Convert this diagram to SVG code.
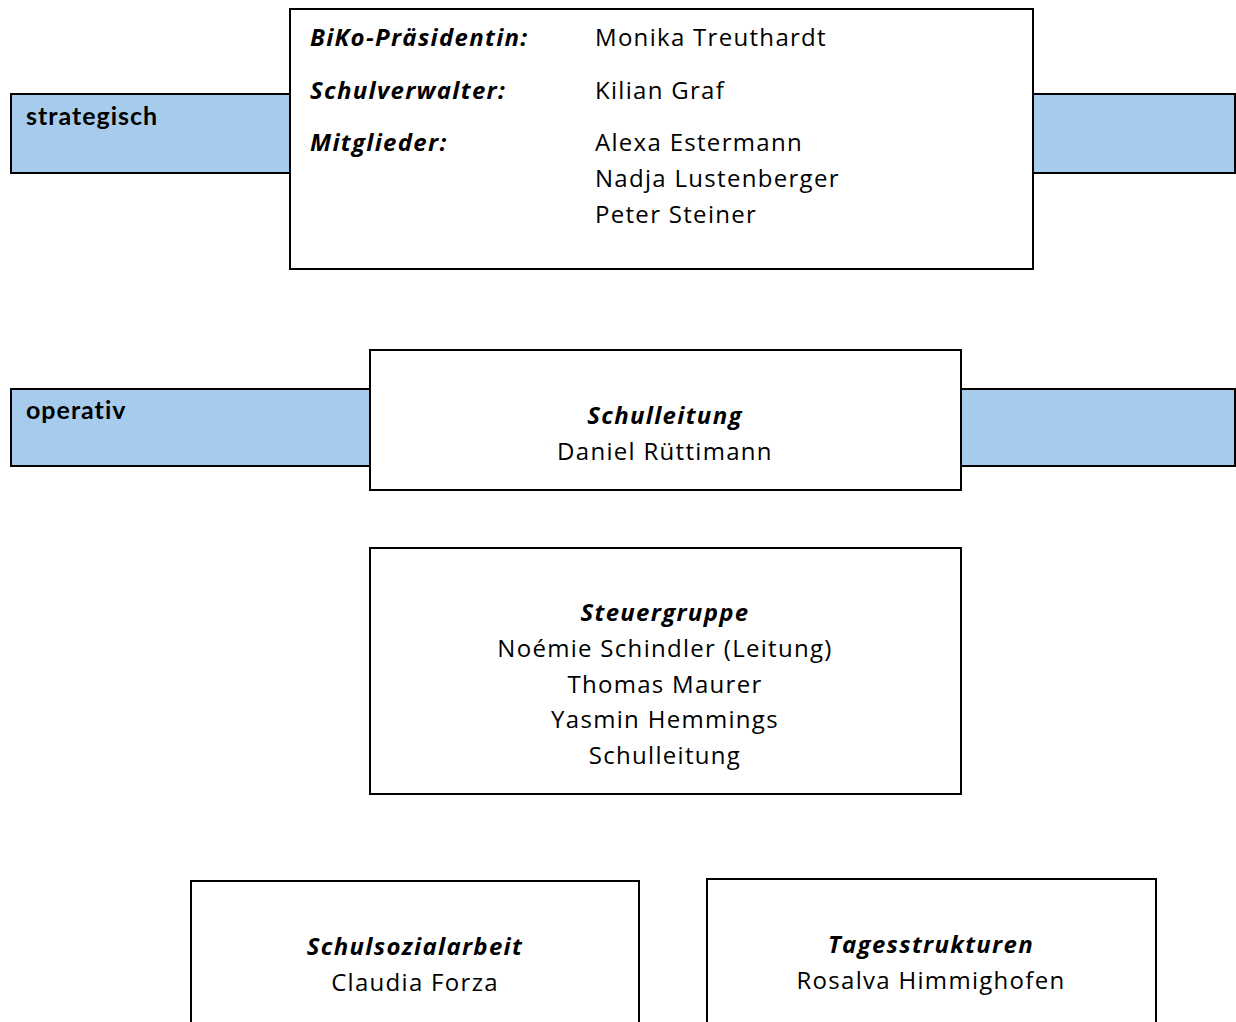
<svg xmlns="http://www.w3.org/2000/svg" width="1236" height="1022" viewBox="0 0 1236 1022">
<style>
.band{fill:#a6cbec;stroke:#000;stroke-width:2}
.box{fill:#fff;stroke:#000;stroke-width:2}
.lvl{font-family:Lato,"Liberation Sans",sans-serif;font-weight:bold;font-size:25px;letter-spacing:1px;fill:#000}
.t{font-family:"Open Sans","Noto Sans",sans-serif;font-size:24px;letter-spacing:1.3px;fill:#000}
.h{font-family:"Open Sans","Noto Sans",sans-serif;font-size:24px;letter-spacing:1.3px;font-weight:bold;font-style:italic;fill:#000}
.c{text-anchor:middle}
</style>
<rect width="1236" height="1022" fill="#fff"/>
<g id="band-strategisch">
<rect class="band" x="11" y="94" width="1224" height="79"/>
<text class="lvl" x="26" y="125">strategisch</text>
</g>
<g id="band-operativ">
<rect class="band" x="11" y="389" width="1224" height="77"/>
<text class="lvl" x="26" y="419">operativ</text>
</g>
<g id="biko">
<rect class="box" x="290" y="9" width="743" height="260"/>
<text class="h" x="310" y="46">BiKo-Präsidentin:</text>
<text class="t" x="595" y="46">Monika Treuthardt</text>
<text class="h" x="310" y="99">Schulverwalter:</text>
<text class="t" x="595" y="99">Kilian Graf</text>
<text class="h" x="310" y="151">Mitglieder:</text>
<text class="t" x="595" y="151">Alexa Estermann</text>
<text class="t" x="595" y="187">Nadja Lustenberger</text>
<text class="t" x="595" y="223">Peter Steiner</text>
</g>
<g id="schulleitung">
<rect class="box" x="370" y="350" width="591" height="140"/>
<text class="h c" x="665" y="424">Schulleitung</text>
<text class="t c" x="665" y="460">Daniel Rüttimann</text>
</g>
<g id="steuergruppe">
<rect class="box" x="370" y="548" width="591" height="246"/>
<text class="h c" x="665" y="621">Steuergruppe</text>
<text class="t c" x="665" y="657">Noémie Schindler (Leitung)</text>
<text class="t c" x="665" y="693">Thomas Maurer</text>
<text class="t c" x="665" y="728">Yasmin Hemmings</text>
<text class="t c" x="665" y="764">Schulleitung</text>
</g>
<g id="schulsozialarbeit">
<rect class="box" x="191" y="881" width="448" height="160"/>
<text class="h c" x="415" y="955">Schulsozialarbeit</text>
<text class="t c" x="415" y="991">Claudia Forza</text>
</g>
<g id="tagesstrukturen">
<rect class="box" x="707" y="879" width="449" height="160"/>
<text class="h c" x="931" y="953">Tagesstrukturen</text>
<text class="t c" x="931" y="989">Rosalva Himmighofen</text>
</g>
<g id="connectors"></g>
</svg>
